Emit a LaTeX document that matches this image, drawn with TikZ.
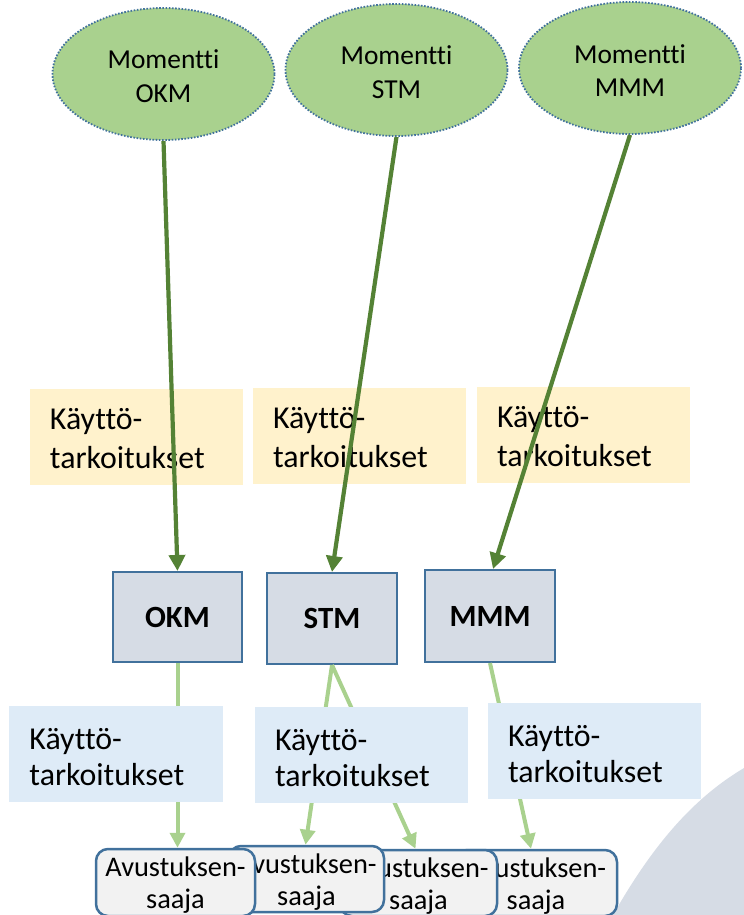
\documentclass[tikz,border=0pt]{standalone}
\usepackage{fontspec}
\setmainfont[Ligatures=NoCommon]{Carlito}
\usetikzlibrary{shapes.geometric,arrows.meta}
\definecolor{egreen}{HTML}{A9D18E}
\definecolor{dkgreen}{HTML}{548235}
\definecolor{ltgreen}{HTML}{A9D18E}
\definecolor{bordblue}{HTML}{41719C}
\definecolor{ycol}{HTML}{FFF2CC}
\definecolor{bcol}{HTML}{DEEBF7}
\definecolor{gcol}{HTML}{D6DCE5}
\definecolor{acol}{HTML}{F2F2F2}
\definecolor{bgshape}{HTML}{D6DCE5}
\newcommand{\upstrut}[1]{\rule{0pt}{#1}}
\tikzset{
  mom/.style={ellipse, fill=egreen, draw=bordblue, line width=1.8bp,
    dash pattern=on 1.6bp off 1.6bp, minimum width=222bp, minimum height=132bp,
    inner sep=0pt, align=center, font=\fontsize{27.5}{33.5}\selectfont},
  ybox/.style={rectangle, fill=ycol, minimum width=213bp, minimum height=96bp,
    inner xsep=20bp, text width=173bp, align=left, font=\fontsize{32}{39}\selectfont},
  bbox/.style={rectangle, fill=bcol, minimum width=213bp, minimum height=96bp,
    inner xsep=20bp, text width=173bp, align=left, font=\fontsize{32}{36}\selectfont},
  gbox/.style={rectangle, fill=gcol, draw=bordblue, line width=2bp,
    minimum width=129bp, minimum height=90bp, font=\bfseries\fontsize{31}{34}\selectfont},
  abox/.style={rectangle, rounded corners=12bp, fill=acol, draw=bordblue, line width=2.5bp,
    minimum width=158bp, minimum height=66bp, inner sep=0pt, align=center,
    font=\fontsize{28.5}{32}\selectfont},
  dkarrow/.style={draw=dkgreen, line width=4.2bp, -{Triangle[length=16bp,width=16bp]}},
  ltarrow/.style={draw=ltgreen, line width=4bp, -{Triangle[length=15bp,width=15bp]}}
}
\begin{document}
\begin{tikzpicture}[x=1bp,y=-1bp]
\useasboundingbox (0,0) rectangle (744,915);
% background shape
\fill[bgshape] (613,915) .. controls (650,850) and (690,800) .. (744,768) -- (744,915) -- cycle;
% ellipses
\node[mom] (E1) at (163.5,74) {\upstrut{23.5bp}Momentti\\OKM};
\node[mom] (E2) at (396.5,70) {\upstrut{23.5bp}Momentti\\STM};
\node[mom] (E3) at (630,68) {\upstrut{23.5bp}Momentti\\MMM};
% yellow boxes
\node[ybox] (Y1) at (136.5,437) {\upstrut{25bp}Käyttö-\\tarkoitukset};
\node[ybox] (Y2) at (359.5,436) {\upstrut{25bp}Käyttö-\\tarkoitukset};
\node[ybox] (Y3) at (583.5,435) {\upstrut{25bp}Käyttö-\\tarkoitukset};
% ministries
\node[gbox] (OKM) at (177.5,617) {OKM};
\node[gbox, minimum width=130bp, minimum height=91bp] (STM) at (332,618.5) {STM};
\node[gbox, minimum width=130bp, minimum height=92bp] (MMM) at (490,616) {MMM};
% recipients (back to front)
\node[abox, minimum width=162bp] (A4) at (536,883) {\upstrut{25bp}Avustuksen-\\saaja};
\node[abox, minimum width=157bp] (A3) at (418.5,883) {\upstrut{25bp}Avustuksen-\\saaja};
\node[abox, minimum width=155bp] (A2) at (306.5,879) {\upstrut{25bp}Avustuksen-\\saaja};
\node[abox, minimum width=159bp, minimum height=67bp] (A1) at (175.5,882.5) {\upstrut{25bp}Avustuksen-\\saaja};
% dark green arrows
\draw[dkarrow] (E1.south) -- (OKM.north);
\draw[dkarrow] (E2.south) -- (STM.north);
\draw[dkarrow] (E3.south) -- ([xshift=3bp]MMM.north);
% light green arrows
\draw[ltarrow] (OKM.south) -- (OKM.south |- A1.north);
\draw[ltarrow] (STM.south) -- ([xshift=-1bp]A2.north);
\draw[ltarrow] (STM.south) -- ([xshift=-3bp]A3.north);
\draw[ltarrow] (MMM.south) -- ([xshift=-5bp]A4.north);
% blue boxes
\node[bbox] (B1) at (116,754) {\upstrut{28bp}Käyttö-\\tarkoitukset};
\node[bbox] (B2) at (361.5,755) {\upstrut{28bp}Käyttö-\\tarkoitukset};
\node[bbox] (B3) at (594.5,751) {\upstrut{28bp}Käyttö-\\tarkoitukset};
\end{tikzpicture}
\end{document}
